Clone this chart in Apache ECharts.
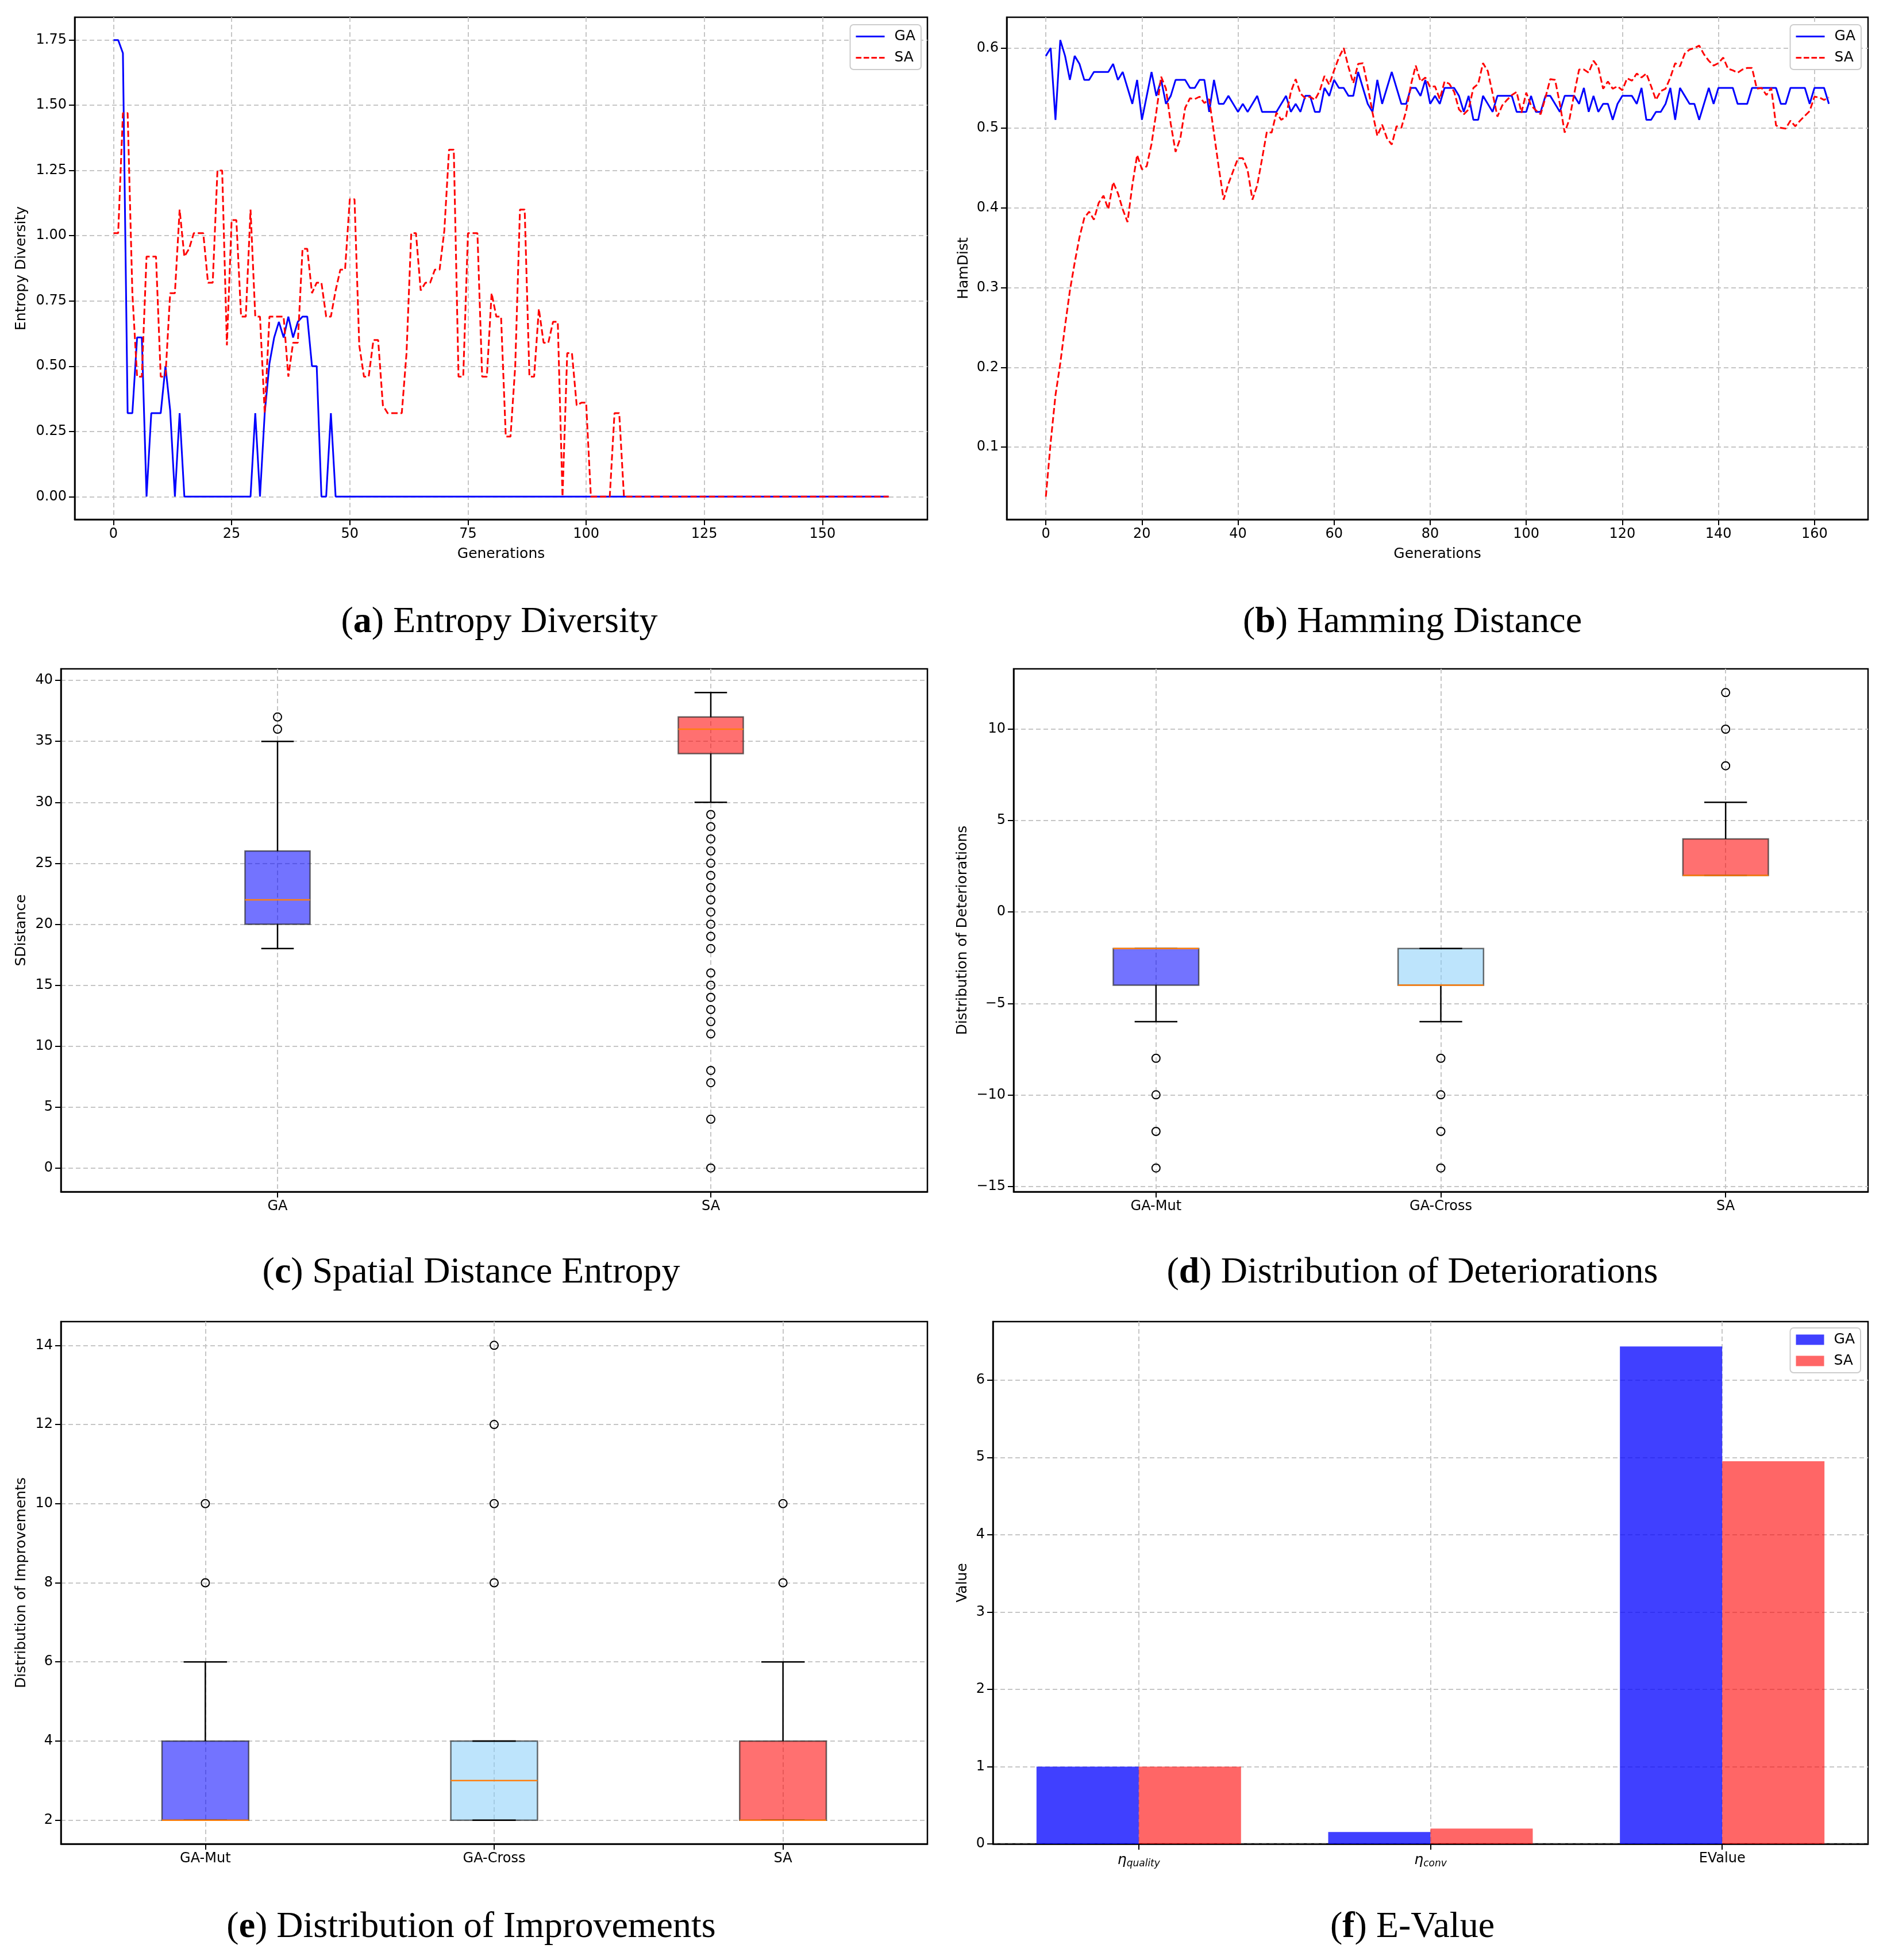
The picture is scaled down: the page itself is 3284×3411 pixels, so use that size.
<!DOCTYPE html>
<html>
<head>
<meta charset="utf-8">
<title>GA vs SA</title>
<script src="https://cdn.jsdelivr.net/npm/echarts@6.0.0/dist/echarts.min.js"></script>
<style>
html, body { margin: 0; padding: 0; background: #fff; }
#chart { width: 3284px; height: 3411px; }
</style>
</head>
<body>
<div id="chart"></div>
<script>
// (a) entropy diversity, one value per generation (0..164)
var entropyGA = [
    1.75, 1.75, 1.70, 0.32, 0.32, 0.61, 0.61, 0, 0.32, 0.32,
    0.32, 0.50, 0.33, 0, 0.32, 0, 0, 0, 0, 0,
    0, 0, 0, 0, 0, 0, 0, 0, 0, 0,
    0.32, 0, 0.32, 0.51, 0.61, 0.67, 0.61, 0.69, 0.61, 0.67,
    0.69, 0.69, 0.50, 0.50, 0, 0, 0.32, 0, 0, 0,
    0, 0, 0, 0, 0, 0, 0, 0, 0, 0,
    0, 0, 0, 0, 0, 0, 0, 0, 0, 0,
    0, 0, 0, 0, 0, 0, 0, 0, 0, 0,
    0, 0, 0, 0, 0, 0, 0, 0, 0, 0,
    0, 0, 0, 0, 0, 0, 0, 0, 0, 0,
    0, 0, 0, 0, 0, 0, 0, 0, 0, 0,
    0, 0, 0, 0, 0, 0, 0, 0, 0, 0,
    0, 0, 0, 0, 0, 0, 0, 0, 0, 0,
    0, 0, 0, 0, 0, 0, 0, 0, 0, 0,
    0, 0, 0, 0, 0, 0, 0, 0, 0, 0,
    0, 0, 0, 0, 0, 0, 0, 0, 0, 0,
    0, 0, 0, 0, 0
];
var entropySA = [
    1.01, 1.01, 1.47, 1.47, 0.78, 0.46, 0.46, 0.92, 0.92, 0.92,
    0.46, 0.46, 0.78, 0.78, 1.10, 0.92, 0.95, 1.01, 1.01, 1.01,
    0.82, 0.82, 1.25, 1.25, 0.58, 1.06, 1.06, 0.69, 0.69, 1.10,
    0.69, 0.69, 0.32, 0.69, 0.69, 0.69, 0.69, 0.46, 0.59, 0.59,
    0.95, 0.95, 0.78, 0.82, 0.82, 0.69, 0.69, 0.79, 0.87, 0.87,
    1.14, 1.14, 0.58, 0.46, 0.46, 0.60, 0.60, 0.35, 0.32, 0.32,
    0.32, 0.32, 0.55, 1.01, 1.01, 0.79, 0.82, 0.82, 0.87, 0.87,
    1.02, 1.33, 1.33, 0.46, 0.46, 1.01, 1.01, 1.01, 0.46, 0.46,
    0.78, 0.69, 0.69, 0.23, 0.23, 0.50, 1.10, 1.10, 0.46, 0.46,
    0.72, 0.59, 0.59, 0.67, 0.67, 0, 0.55, 0.55, 0.35, 0.36,
    0.36, 0, 0, 0, 0, 0, 0.32, 0.32, 0, 0,
    0, 0, 0, 0, 0, 0, 0, 0, 0, 0,
    0, 0, 0, 0, 0, 0, 0, 0, 0, 0,
    0, 0, 0, 0, 0, 0, 0, 0, 0, 0,
    0, 0, 0, 0, 0, 0, 0, 0, 0, 0,
    0, 0, 0, 0, 0, 0, 0, 0, 0, 0,
    0, 0, 0, 0, 0
];

// (b) hamming distance, one value per generation (0..163)
var hamGA = [
    0.59, 0.60, 0.51, 0.61, 0.59, 0.56, 0.59, 0.58, 0.56, 0.56,
    0.57, 0.57, 0.57, 0.57, 0.58, 0.56, 0.57, 0.55, 0.53, 0.56,
    0.51, 0.54, 0.57, 0.54, 0.56, 0.53, 0.54, 0.56, 0.56, 0.56,
    0.55, 0.55, 0.56, 0.56, 0.52, 0.56, 0.53, 0.53, 0.54, 0.53,
    0.52, 0.53, 0.52, 0.53, 0.54, 0.52, 0.52, 0.52, 0.52, 0.53,
    0.54, 0.52, 0.53, 0.52, 0.54, 0.54, 0.52, 0.52, 0.55, 0.54,
    0.56, 0.55, 0.55, 0.54, 0.54, 0.57, 0.55, 0.53, 0.52, 0.56,
    0.53, 0.55, 0.57, 0.55, 0.53, 0.53, 0.55, 0.55, 0.54, 0.56,
    0.53, 0.54, 0.53, 0.55, 0.55, 0.55, 0.54, 0.52, 0.54, 0.51,
    0.51, 0.54, 0.53, 0.52, 0.54, 0.54, 0.54, 0.54, 0.52, 0.52,
    0.52, 0.54, 0.52, 0.52, 0.54, 0.54, 0.53, 0.52, 0.54, 0.54,
    0.54, 0.53, 0.55, 0.52, 0.54, 0.52, 0.53, 0.53, 0.51, 0.53,
    0.54, 0.54, 0.54, 0.53, 0.55, 0.51, 0.51, 0.52, 0.52, 0.53,
    0.55, 0.51, 0.55, 0.54, 0.53, 0.53, 0.51, 0.53, 0.55, 0.53,
    0.55, 0.55, 0.55, 0.55, 0.53, 0.53, 0.53, 0.55, 0.55, 0.55,
    0.55, 0.55, 0.55, 0.53, 0.53, 0.55, 0.55, 0.55, 0.55, 0.53,
    0.55, 0.55, 0.55, 0.53
];
var hamSA = [
    0.038, 0.106, 0.165, 0.205, 0.252, 0.296, 0.331, 0.363, 0.387, 0.395,
    0.385, 0.406, 0.415, 0.398, 0.432, 0.418, 0.398, 0.382, 0.428, 0.466,
    0.448, 0.452, 0.480, 0.520, 0.564, 0.549, 0.505, 0.470, 0.487, 0.525,
    0.537, 0.536, 0.539, 0.531, 0.536, 0.493, 0.450, 0.410, 0.430, 0.446,
    0.462, 0.462, 0.447, 0.410, 0.428, 0.461, 0.495, 0.494, 0.519, 0.510,
    0.514, 0.545, 0.561, 0.543, 0.537, 0.539, 0.535, 0.546, 0.565, 0.554,
    0.572, 0.588, 0.600, 0.576, 0.556, 0.580, 0.581, 0.552, 0.519, 0.490,
    0.504, 0.487, 0.479, 0.502, 0.500, 0.521, 0.554, 0.578, 0.558, 0.563,
    0.551, 0.552, 0.536, 0.558, 0.555, 0.545, 0.523, 0.517, 0.523, 0.550,
    0.555, 0.581, 0.571, 0.543, 0.514, 0.528, 0.535, 0.541, 0.545, 0.519,
    0.544, 0.528, 0.522, 0.517, 0.538, 0.561, 0.560, 0.530, 0.494, 0.511,
    0.543, 0.573, 0.573, 0.569, 0.584, 0.576, 0.549, 0.558, 0.549, 0.552,
    0.547, 0.562, 0.559, 0.568, 0.563, 0.568, 0.552, 0.535, 0.546, 0.549,
    0.563, 0.581, 0.577, 0.593, 0.598, 0.600, 0.603, 0.592, 0.584, 0.578,
    0.581, 0.588, 0.574, 0.572, 0.569, 0.573, 0.575, 0.575, 0.549, 0.550,
    0.541, 0.550, 0.503, 0.500, 0.499, 0.509, 0.502, 0.509, 0.515, 0.521,
    0.539, 0.538, 0.535, 0.538
];

// (c) spatial distance: [lower whisker, Q1, median, Q3, upper whisker]
var sdCats = ['GA', 'SA'];
var sdStats = [[18, 20, 22, 26, 35], [30, 34, 36, 37, 39]];
var sdOutliers = [
    [36, 37],
    [29, 28, 27, 26, 25, 24, 23, 22, 21, 20, 19, 18, 16, 15, 14, 13, 12, 11, 8, 7, 4, 0]
];

// (d) deteriorations
var detCats = ['GA-Mut', 'GA-Cross', 'SA'];
var detStats = [[-6, -4, -2, -2, -2], [-6, -4, -4, -2, -2], [2, 2, 2, 4, 6]];
var detOutliers = [[-8, -10, -12, -14], [-8, -10, -12, -14], [8, 10, 12]];

// (e) improvements
var impCats = ['GA-Mut', 'GA-Cross', 'SA'];
var impStats = [[2, 2, 2, 4, 6], [2, 2, 3, 4, 4], [2, 2, 2, 4, 6]];
var impOutliers = [[8, 10], [8, 10, 12, 14], [8, 10]];

// (f) e-value
var evalCats = ['η_quality', 'η_conv', 'EValue'];
var evalGA = [1.0, 0.154, 6.434];
var evalSA = [1.0, 0.198, 4.95];

// tick values
var entropyTicks = [0, 0.25, 0.5, 0.75, 1, 1.25, 1.5, 1.75];
var genTicksA = [0, 25, 50, 75, 100, 125, 150];
var hamTicks = [0.1, 0.2, 0.3, 0.4, 0.5, 0.6];
var genTicksB = [0, 20, 40, 60, 80, 100, 120, 140, 160];
var sdTicks = [0, 5, 10, 15, 20, 25, 30, 35, 40];
var detTicks = [-15, -10, -5, 0, 5, 10];
var impTicks = [2, 4, 6, 8, 10, 12, 14];
var evalTicks = [0, 1, 2, 3, 4, 5, 6];

var captionTexts = [
    ['a', 'Entropy Diversity'], ['b', 'Hamming Distance'],
    ['c', 'Spatial Distance Entropy'], ['d', 'Distribution of Deteriorations'],
    ['e', 'Distribution of Improvements'], ['f', 'E-Value']
];

var FONT = 'DejaVu Sans';

function gridLine() {
    return { show: true, lineStyle: { color: '#c6c6c6', width: 2, type: [8, 5] } };
}

function valAxis(gi, min, max, ticks, fmt, name, gap) {
    return {
        type: 'value', gridIndex: gi, min: min, max: max,
        name: name, nameLocation: 'middle', nameGap: gap,
        nameTextStyle: { fontFamily: FONT, fontSize: 25, color: '#000' },
        axisLine: { show: true, onZero: false, lineStyle: { color: '#000', width: 2.5 } },
        axisTick: { show: true, length: 10, customValues: ticks, lineStyle: { color: '#000', width: 2 } },
        axisLabel: { customValues: ticks, formatter: fmt, fontFamily: FONT, fontSize: 24, color: '#000', margin: 14 },
        splitLine: gridLine()
    };
}

function minus(v) {
    return v < 0 ? '\u2212' + (-v) : String(v);
}

function catNamer(cats) {
    return function (v) { return cats[Math.round(v) - 1]; };
}

function indexed(arr) {
    return arr.map(function (v, i) { return [i, v]; });
}

// whisker box drawn from the stats, half is box half-width in x units
function boxSeries(ai, stats, fills, half) {
    var data = stats.map(function (s, k) { return [k + 1].concat(s); });
    return {
        type: 'custom', name: 'box' + ai, xAxisIndex: ai, yAxisIndex: ai, z: 3,
        data: data, encode: { x: 0, y: [1, 2, 3, 4, 5] },
        renderItem: function (params, api) {
            var x = api.value(0);
            var lo = api.coord([x, api.value(1)]);
            var q1 = api.coord([x + half, api.value(2)]);
            var med = api.coord([x, api.value(3)]);
            var q3 = api.coord([x - half, api.value(4)]);
            var hi = api.coord([x, api.value(5)]);
            var capL = api.coord([x - half / 2, 0])[0];
            var capR = api.coord([x + half / 2, 0])[0];
            function ln(x1, y1, x2, y2, color) {
                return { type: 'line', shape: { x1: x1, y1: y1, x2: x2, y2: y2 }, style: { stroke: color, lineWidth: 2.5 } };
            }
            return {
                type: 'group',
                children: [
                    { type: 'rect', shape: { x: q3[0], y: q3[1], width: q1[0] - q3[0], height: q1[1] - q3[1] },
                      style: { fill: fills[params.dataIndex], stroke: 'rgba(30,30,30,0.65)', lineWidth: 2.5 } },
                    ln(lo[0], lo[1], lo[0], q1[1], '#000'),
                    ln(hi[0], hi[1], hi[0], q3[1], '#000'),
                    ln(capL, lo[1], capR, lo[1], '#000'),
                    ln(capL, hi[1], capR, hi[1], '#000'),
                    ln(q3[0], med[1], q1[0], med[1], '#ff7f0e')
                ]
            };
        }
    };
}

function outlierSeries(ai, groups) {
    var pts = [];
    groups.forEach(function (vals, k) {
        vals.forEach(function (v) { pts.push([k + 1, v]); });
    });
    return {
        type: 'scatter', name: 'fliers' + ai, xAxisIndex: ai, yAxisIndex: ai, z: 4,
        data: pts, symbol: 'circle', symbolSize: 14,
        itemStyle: { color: 'rgba(0,0,0,0)', borderColor: '#000', borderWidth: 2, opacity: 1 }
    };
}

var BLUE_A = 'rgba(0,0,255,0.55)';
var RED_A = 'rgba(255,0,0,0.56)';
var SKY_A = 'rgba(135,206,250,0.55)';

var lineLegend = [
    { name: 'GA', icon: 'path://M0,0H50V3H0Z', itemStyle: { color: '#0000ff' } },
    { name: 'SA', icon: 'path://M0,0H10V3H0ZM14,0H24V3H14ZM28,0H38V3H28ZM42,0H52V3H42Z', itemStyle: { color: '#ff0000' } }
];
var barLegend = [
    { name: 'GA', icon: 'rect', itemStyle: { color: 'rgba(0,0,255,0.75)' } },
    { name: 'SA', icon: 'rect', itemStyle: { color: 'rgba(255,0,0,0.6)' } }
];
function legendBox(data, right, top, w, h) {
    return {
        data: data, orient: 'vertical', right: right, top: top,
        itemWidth: w, itemHeight: h, itemGap: 12, selectedMode: false,
        padding: [8, 10, 8, 10],
        backgroundColor: '#fff', borderColor: '#cccccc', borderWidth: 2, borderRadius: 6,
        textStyle: { fontFamily: FONT, fontSize: 25, color: '#000', padding: [0, 0, 0, 12] }
    };
}

var frame = { show: true, borderColor: '#000', borderWidth: 2.5, backgroundColor: 'transparent' };
function grid(l, t, w, h) {
    return { left: l, top: t, width: w, height: h, show: frame.show, borderColor: frame.borderColor,
             borderWidth: frame.borderWidth, backgroundColor: frame.backgroundColor, containLabel: false };
}

var captionPos = [[869, 1083], [2458, 1083], [820, 2215], [2458, 2215], [820, 3354], [2458, 3354]];
var captions = captionTexts.map(function (c, i) {
    return {
        type: 'text', x: captionPos[i][0], y: captionPos[i][1],
        style: {
            text: '({b|' + c[0] + '}) ' + c[1],
            font: '64px "Liberation Serif"', fontFamily: 'Liberation Serif', fontSize: 64, fill: '#000',
            textAlign: 'center', textVerticalAlign: 'middle', align: 'center', verticalAlign: 'middle',
            rich: { b: { fontFamily: 'Liberation Serif', fontSize: 64, fontWeight: 'bold', fill: '#000' } }
        }
    };
});

var myChart = echarts.init(document.getElementById('chart'));

var evalAxisCat = {
    type: 'category', gridIndex: 5, data: evalCats,
    axisLine: { show: true, onZero: false, lineStyle: { color: '#000', width: 2.5 } },
    axisTick: { show: true, alignWithLabel: true, length: 10, lineStyle: { color: '#000', width: 2 } },
    axisLabel: {
        margin: 14, color: '#000', fontFamily: FONT, fontSize: 24,
        formatter: function (v) {
            var p = v.split('_');
            return p.length > 1 ? '{e|' + p[0] + '}{s|' + p[1] + '}' : v;
        },
        rich: {
            e: { fontFamily: FONT, fontStyle: 'italic', fontSize: 25, color: '#000' },
            s: { fontFamily: FONT, fontStyle: 'italic', fontSize: 17, color: '#000', padding: [12, 0, 0, 0] }
        }
    },
    splitLine: { show: false }
};
// helper axis only for the vertical grid lines at the bar groups
var evalAxisGrid = {
    type: 'value', gridIndex: 5, min: -0.5, max: 2.5, position: 'top',
    axisLine: { show: false }, axisLabel: { show: false },
    axisTick: { show: false, customValues: [0, 1, 2] },
    splitLine: gridLine()
};

var option = {
    animation: false,
    backgroundColor: '#fff',
    textStyle: { fontFamily: FONT },
    grid: [
        grid(130, 30, 1484, 874),
        grid(1752, 30, 1499, 874),
        grid(106, 1164, 1508, 910),
        grid(1764, 1164, 1487, 910),
        grid(106, 2300, 1508, 909),
        grid(1728, 2300, 1523, 909)
    ],
    xAxis: [
        valAxis(0, -8.2, 172.2, genTicksA, String, 'Generations', 48),
        valAxis(1, -8.15, 171.15, genTicksB, String, 'Generations', 48),
        valAxis(2, 0.5, 2.5, [1, 2], catNamer(sdCats), '', 0),
        valAxis(3, 0.5, 3.5, [1, 2, 3], catNamer(detCats), '', 0),
        valAxis(4, 0.5, 3.5, [1, 2, 3], catNamer(impCats), '', 0),
        evalAxisCat,
        evalAxisGrid
    ],
    yAxis: [
        valAxis(0, -0.0875, 1.8375, entropyTicks, function (v) { return v.toFixed(2); }, 'Entropy Diversity', 80),
        valAxis(1, 0.0095, 0.6385, hamTicks, function (v) { return v.toFixed(1); }, 'HamDist', 62),
        valAxis(2, -1.95, 40.95, sdTicks, String, 'SDistance', 56),
        valAxis(3, -15.3, 13.3, detTicks, minus, 'Distribution of Deteriorations', 76),
        valAxis(4, 1.4, 14.6, impTicks, String, 'Distribution of Improvements', 56),
        valAxis(5, 0, 6.756, evalTicks, String, 'Value', 40)
    ],
    legend: [
        legendBox(lineLegend, 1681, 43, 50, 4),
        legendBox(lineLegend, 45, 43, 50, 4),
        legendBox(barLegend, 46, 2311, 49, 18)
    ],
    graphic: captions,
    series: [
        { type: 'line', name: 'GA', xAxisIndex: 0, yAxisIndex: 0, data: indexed(entropyGA),
          symbol: 'none', lineStyle: { color: '#0000ff', width: 3 }, itemStyle: { color: '#0000ff' } },
        { type: 'line', name: 'SA', xAxisIndex: 0, yAxisIndex: 0, data: indexed(entropySA),
          symbol: 'none', lineStyle: { color: '#ff0000', width: 3, type: [11, 5] }, itemStyle: { color: '#ff0000' } },
        { type: 'line', name: 'GA', xAxisIndex: 1, yAxisIndex: 1, data: indexed(hamGA),
          symbol: 'none', lineStyle: { color: '#0000ff', width: 3 }, itemStyle: { color: '#0000ff' } },
        { type: 'line', name: 'SA', xAxisIndex: 1, yAxisIndex: 1, data: indexed(hamSA),
          symbol: 'none', lineStyle: { color: '#ff0000', width: 3, type: [11, 5] }, itemStyle: { color: '#ff0000' } },
        boxSeries(2, sdStats, [BLUE_A, RED_A], 0.075),
        outlierSeries(2, sdOutliers),
        boxSeries(3, detStats, [BLUE_A, SKY_A, RED_A], 0.15),
        outlierSeries(3, detOutliers),
        boxSeries(4, impStats, [BLUE_A, SKY_A, RED_A], 0.15),
        outlierSeries(4, impOutliers),
        { type: 'bar', name: 'GA', xAxisIndex: 5, yAxisIndex: 5, data: evalGA,
          barWidth: 178, barGap: '0%', itemStyle: { color: 'rgba(0,0,255,0.75)' } },
        { type: 'bar', name: 'SA', xAxisIndex: 5, yAxisIndex: 5, data: evalSA,
          barWidth: 178, barGap: '0%', itemStyle: { color: 'rgba(255,0,0,0.6)' } }
    ]
};

myChart.setOption(option);

window.onresize = function () {
    setTimeout(function () {
        myChart.resize();
    }, 50);
};
</script>
</body>
</html>
